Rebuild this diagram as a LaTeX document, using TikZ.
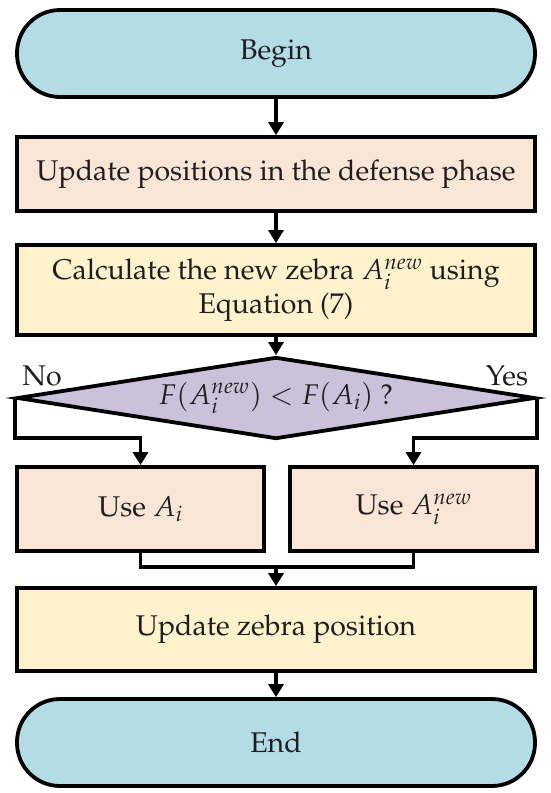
\documentclass[tikz,border=0pt]{standalone}
\usepackage[T1]{fontenc}
\usepackage{mathpazo}
\usetikzlibrary{arrows.meta,shapes.geometric,calc}
\definecolor{termblue}{HTML}{B4DCE7}
\definecolor{peach}{HTML}{FBE5D7}
\definecolor{paleyellow}{HTML}{FFF2CC}
\definecolor{lavender}{HTML}{CCC1DB}
\definecolor{ink}{HTML}{1E1E1E}
\begin{document}
\begin{tikzpicture}[x=1pt,y=-1pt,
  every node/.style={font=\fontsize{28.5}{34}\selectfont, text=ink},
  terminal/.style={draw=black, line width=3.8pt, fill=termblue, rounded corners=43pt,
    minimum width=518pt, minimum height=87pt, inner sep=0pt},
  procbox/.style={draw=black, line width=3.8pt, minimum width=518pt, inner sep=0pt, align=center},
  smallbox/.style={draw=black, line width=3.8pt, fill=peach, minimum width=247pt,
    minimum height=84pt, inner sep=0pt},
  decision/.style={draw=black, line width=3.8pt, fill=lavender, shape=diamond, aspect=6.3,
    minimum width=518pt, minimum height=82pt, inner sep=0pt},
  arr/.style={line width=3.6pt, line join=miter, -{Triangle[length=13pt,width=15pt]}},
  conn/.style={line width=3.6pt, line join=miter}]
\useasboundingbox (0,0) rectangle (550,793);
\node[terminal] (begin) at (276,53.5) {Begin};
\node[procbox, fill=peach, minimum height=74pt] (b1) at (276,174) {Update positions in the defense phase};
\node[procbox, fill=paleyellow, minimum height=90pt] (b2) at (276,290)
  {Calculate the new zebra $A_i^{new}$ using\\Equation (7)};
\node[decision] (dec) at (276,398) {$F(A_i^{new}) < F(A_i)$ ?};
\node[smallbox] (useA) at (140.5,509) {Use $A_i$};
\node[smallbox] (useN) at (413.5,509) {Use $A_i^{new}$};
\node[procbox, fill=paleyellow, minimum height=83pt] (b4) at (276,629.5) {Update zebra position};
\node[terminal] (end) at (276,742.5) {End};
\node (no) at (42,376) {No};
\node (yes) at (507,376) {Yes};
\coordinate (merge) at (276,567);
\draw[arr] (begin) -- (b1);
\draw[arr] (b1) -- (b2);
\draw[arr] (b2) -- (dec);
\draw[arr] (dec.west) -- ++(0,40) -| (useA.north);
\draw[arr] (dec.east) -- ++(0,40) -| (useN.north);
\draw[conn] (useA.south) |- (merge) -| (useN.south);
\draw[arr] (merge) -- (b4);
\draw[arr] (b4) -- (end);
\end{tikzpicture}
\end{document}
